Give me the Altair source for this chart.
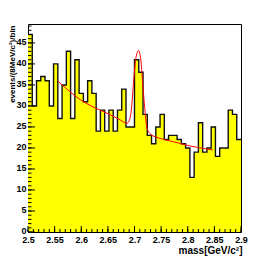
import altair as alt
import pandas as pd

# ---- data ----
x_min, x_max = 2.5, 2.9
counts = [47, 30, 36, 37, 36, 30, 40, 27, 35, 43,
          27, 41, 33, 31, 36, 33, 24, 29, 24, 29,
          24, 29, 34, 25, 25, 41, 38, 28, 23, 21,
          25, 28, 22, 23, 23, 22, 21, 20, 13, 19,
          26, 19, 20, 25, 18, 20, 20, 29, 28, 22]

fit_x = [2.556, 2.575, 2.598, 2.62, 2.648, 2.67, 2.686, 2.690, 2.694, 2.698,
         2.7025, 2.7075, 2.712, 2.715, 2.719, 2.723, 2.729, 2.75, 2.773, 2.80,
         2.82, 2.847]
fit_y = [35.9, 33.8, 31.5, 29.9, 28.3, 26.9, 25.9, 26.5, 29.0, 35.3,
         41.3, 43.2, 40.9, 36.0, 29.8, 25.0, 23.4, 22.2, 21.5, 20.6,
         20.1, 19.5]

x_tick_labels = [2.5, 2.55, 2.6, 2.65, 2.7, 2.75, 2.8, 2.85, 2.9]
y_tick_labels = [0, 5, 10, 15, 20, 25, 30, 35, 40, 45]
x_minor_ticks = [round(2.5 + 0.01 * k, 3) for k in range(41)]
y_minor_ticks = list(range(0, 50))
y_max = 49.5

x_title = "mass[GeV/c²]"
y_title = "events/(8MeV/c²)/bin"

# ---- tables ----
n = len(counts)
w = (x_max - x_min) / n
hist_df = pd.DataFrame({
    "x": [x_min + i * w for i in range(n)] + [x_max],
    "y": counts + [counts[-1]],
})
fit_df = pd.DataFrame({"x": fit_x, "y": fit_y})
xmaj_df = pd.DataFrame({"x": x_tick_labels})
ymaj_df = pd.DataFrame({"y": y_tick_labels})
xmin_df = pd.DataFrame({"x": x_minor_ticks})
ymin_df = pd.DataFrame({"y": y_minor_ticks})

W, H = 213, 208
FONT = "Liberation Sans"
xs = alt.Scale(domain=[x_min, x_max], nice=False, zero=False)
ys = alt.Scale(domain=[0, y_max], nice=False)

x_axis = alt.Axis(values=x_tick_labels, format="~g", ticks=False, domain=False, grid=False,
                  labelFont=FONT, labelFontSize=9, labelFontWeight="bold", labelColor="black",
                  labelPadding=3.5, labelOverlap=False, labelFlush=False,
                  title=x_title, titleFont=FONT, titleFontSize=10, titleFontWeight="bold",
                  titleColor="black", titleAnchor="end", titleAlign="right",
                  titleBaseline="alphabetic", titleX=W + 1, titleY=21)
y_axis = alt.Axis(values=y_tick_labels, ticks=False, domain=False, grid=False,
                  labelFont=FONT, labelFontSize=9, labelFontWeight="bold", labelColor="black",
                  labelPadding=2, labelOverlap=False, labelFlush=False,
                  labelBaseline="middle", labelOffset=-1.5,
                  title=y_title, titleFont=FONT, titleFontSize=8, titleFontWeight="bold",
                  titleColor="black", titleAngle=270, titleAlign="right",
                  titleBaseline="alphabetic", titleX=-13.5, titleY=1)

X = alt.X("x:Q", scale=xs, axis=x_axis, title=x_title)
Y = alt.Y("y:Q", scale=ys, axis=y_axis, title=y_title)

area = alt.Chart(hist_df).mark_area(interpolate="step-after", color="#ffff00").encode(x=X, y=Y)
outline = alt.Chart(hist_df).mark_line(interpolate="step-after", color="#111111",
                                       strokeWidth=1.4).encode(x=X, y=Y)
fit = alt.Chart(fit_df).mark_line(interpolate="monotone", color="#ff0000",
                                  strokeWidth=1).encode(x=X, y=Y)
xmaj = alt.Chart(xmaj_df).mark_rule(color="black", strokeWidth=1).encode(
    x=X, y=alt.value(H), y2=alt.value(H - 6))
xmin = alt.Chart(xmin_df).mark_rule(color="black", strokeWidth=1).encode(
    x=X, y=alt.value(H), y2=alt.value(H - 3))
ymaj = alt.Chart(ymaj_df).mark_rule(color="black", strokeWidth=1).encode(
    y=Y, x=alt.value(0), x2=alt.value(7))
ymin = alt.Chart(ymin_df).mark_rule(color="black", strokeWidth=1).encode(
    y=Y, x=alt.value(0), x2=alt.value(3.5))

chart = alt.layer(area, outline, fit, xmin, xmaj, ymin, ymaj).properties(
    width=W, height=H,
    autosize=alt.AutoSizeParams(type="none"),
    padding={"left": 20, "top": 16, "right": 17, "bottom": 27},
    background="white",
).configure_view(stroke="black", strokeWidth=1)

chart.save("out.html", embed_options={"renderer": "svg", "actions": False})
